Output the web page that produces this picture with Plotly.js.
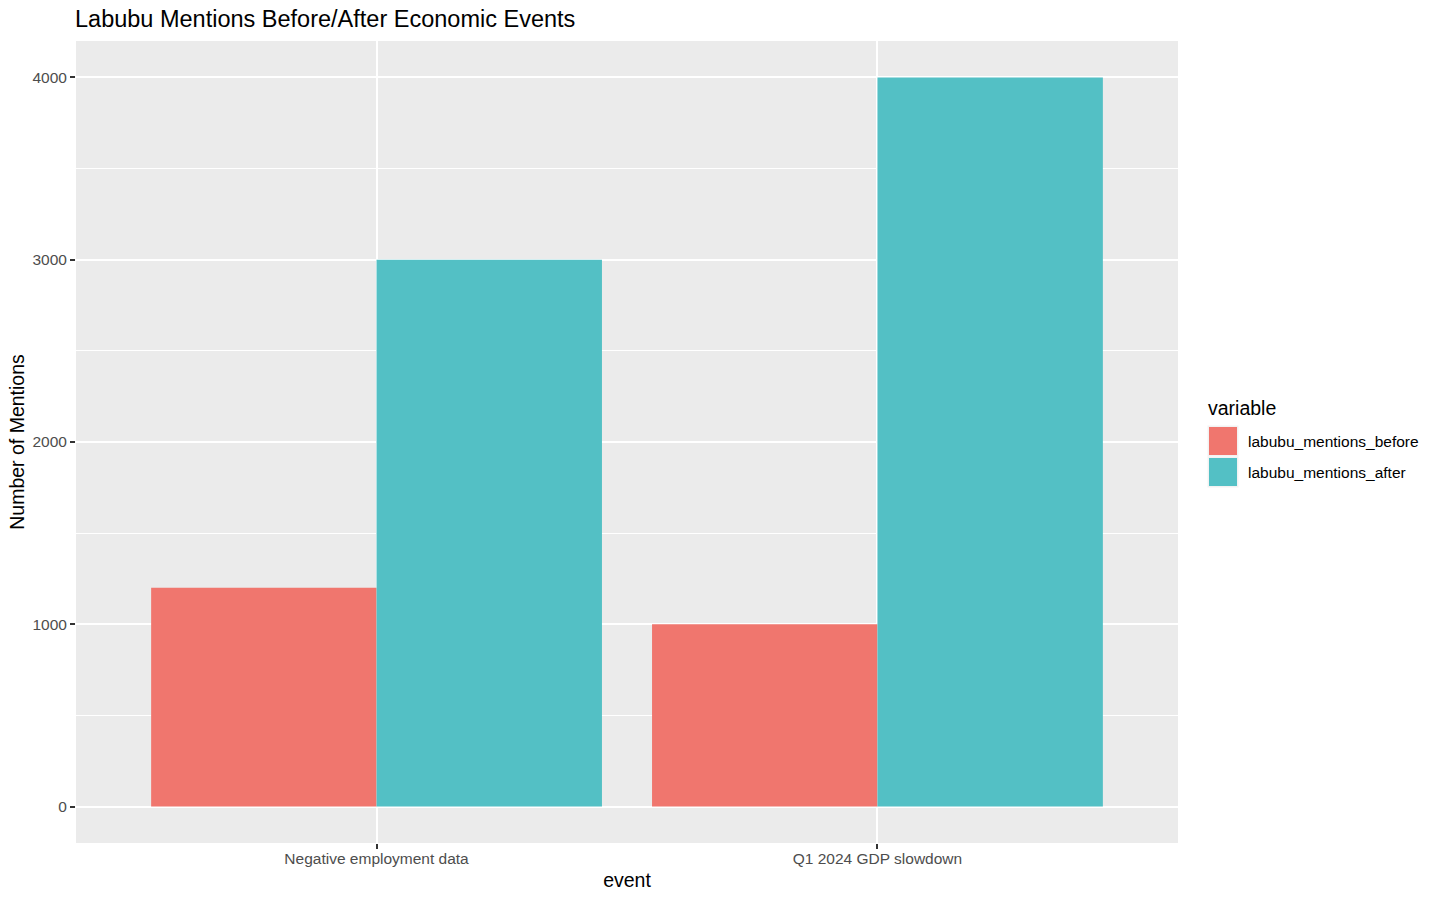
<!DOCTYPE html>
<html>
<head>
<meta charset="utf-8">
<script src="https://cdn.plot.ly/plotly-3.0.1.min.js"></script>
<style>html,body{margin:0;padding:0;background:#fff;}#chart{width:1440px;height:900px;}</style>
</head>
<body>
<div id="chart"></div>
<script>
const events = ["Negative employment data", "Q1 2024 GDP slowdown"];
const seriesNames = ["labubu_mentions_before", "labubu_mentions_after"];
const mentionsBefore = [1200, 1000];
const mentionsAfter = [3000, 4000];
const seriesValues = [mentionsBefore, mentionsAfter];
const seriesColors = ["#F0766E", "#53C0C5"];
const yTicks = [0, 1000, 2000, 3000, 4000];

const W = 1440, H = 900;
const M = {l: 76, r: 262, t: 41, b: 57};
const pw = W - M.l - M.r, ph = H - M.t - M.b;
const px2x = p => (p - M.l) / pw;
const px2y = p => (H - M.b - p) / ph;
const FONT = 'Liberation Sans, Arial, Helvetica, sans-serif';

const traces = seriesNames.map((name, i) => ({
  type: 'bar',
  name: name,
  x: events,
  y: seriesValues[i],
  marker: {color: seriesColors[i], line: {width: 0}},
  showlegend: false,
  hoverinfo: 'x+y+name'
}));

const shapes = [];
const annotations = [];
annotations.push({
  xref: 'paper', yref: 'paper', x: px2x(1206), y: px2y(408),
  xanchor: 'left', yanchor: 'middle', showarrow: false,
  text: 'variable', font: {family: FONT, size: 19.5, color: '#000'}
});
seriesNames.forEach((name, i) => {
  const top = 427 + i * 31;
  shapes.push({
    type: 'rect', xref: 'paper', yref: 'paper',
    x0: px2x(1207.5), x1: px2x(1238.5), y0: px2y(top - 1.5), y1: px2y(top + 29.5),
    fillcolor: '#F2F2F2', line: {width: 0}, layer: 'above'
  });
  shapes.push({
    type: 'rect', xref: 'paper', yref: 'paper',
    x0: px2x(1209), x1: px2x(1237), y0: px2y(top), y1: px2y(top + 28),
    fillcolor: seriesColors[i], line: {width: 0}, layer: 'above'
  });
  annotations.push({
    xref: 'paper', yref: 'paper', x: px2x(1246), y: px2y(top + 14),
    xanchor: 'left', yanchor: 'middle', showarrow: false,
    text: name, font: {family: FONT, size: 15.5, color: '#000'}
  });
});

const layout = {
  width: W, height: H,
  margin: M,
  paper_bgcolor: '#FFFFFF',
  plot_bgcolor: '#EBEBEB',
  font: {family: FONT, color: '#4D4D4D', size: 15.5},
  title: {
    text: 'Labubu Mentions Before/After Economic Events',
    x: 75 / W, xref: 'container', xanchor: 'left',
    y: 1 - 19 / H, yref: 'container', yanchor: 'middle',
    font: {family: FONT, size: 23.5, color: '#000'}
  },
  barmode: 'group',
  bargap: 0.1,
  bargroupgap: 0,
  xaxis: {
    type: 'category',
    range: [-0.6, 1.6],
    showgrid: true, gridcolor: '#FFFFFF', gridwidth: 2,
    zeroline: false, showline: false,
    ticks: 'outside', ticklen: 5, tickwidth: 1.9, tickcolor: '#333333',
    ticklabelstandoff: -4,
    tickfont: {family: FONT, size: 15.5, color: '#4D4D4D'},
    title: {text: 'event', font: {family: FONT, size: 19.5, color: '#000'}, standoff: 7}
  },
  yaxis: {
    range: [-200, 4200],
    tickvals: yTicks,
    ticktext: yTicks.map(String),
    showgrid: true, gridcolor: '#FFFFFF', gridwidth: 2,
    minor: {dtick: 500, tick0: 0, showgrid: true, gridcolor: '#FFFFFF', gridwidth: 1, ticks: ''},
    zeroline: false, showline: false,
    ticks: 'outside', ticklen: 5, tickwidth: 1.9, tickcolor: '#333333',
    tickfont: {family: FONT, size: 15.5, color: '#4D4D4D'},
    title: {text: 'Number of Mentions', font: {family: FONT, size: 19.5, color: '#000'}, standoff: 2}
  },
  shapes: shapes,
  annotations: annotations
};

Plotly.newPlot('chart', traces, layout, {displayModeBar: false, responsive: false});
</script>
</body>
</html>
